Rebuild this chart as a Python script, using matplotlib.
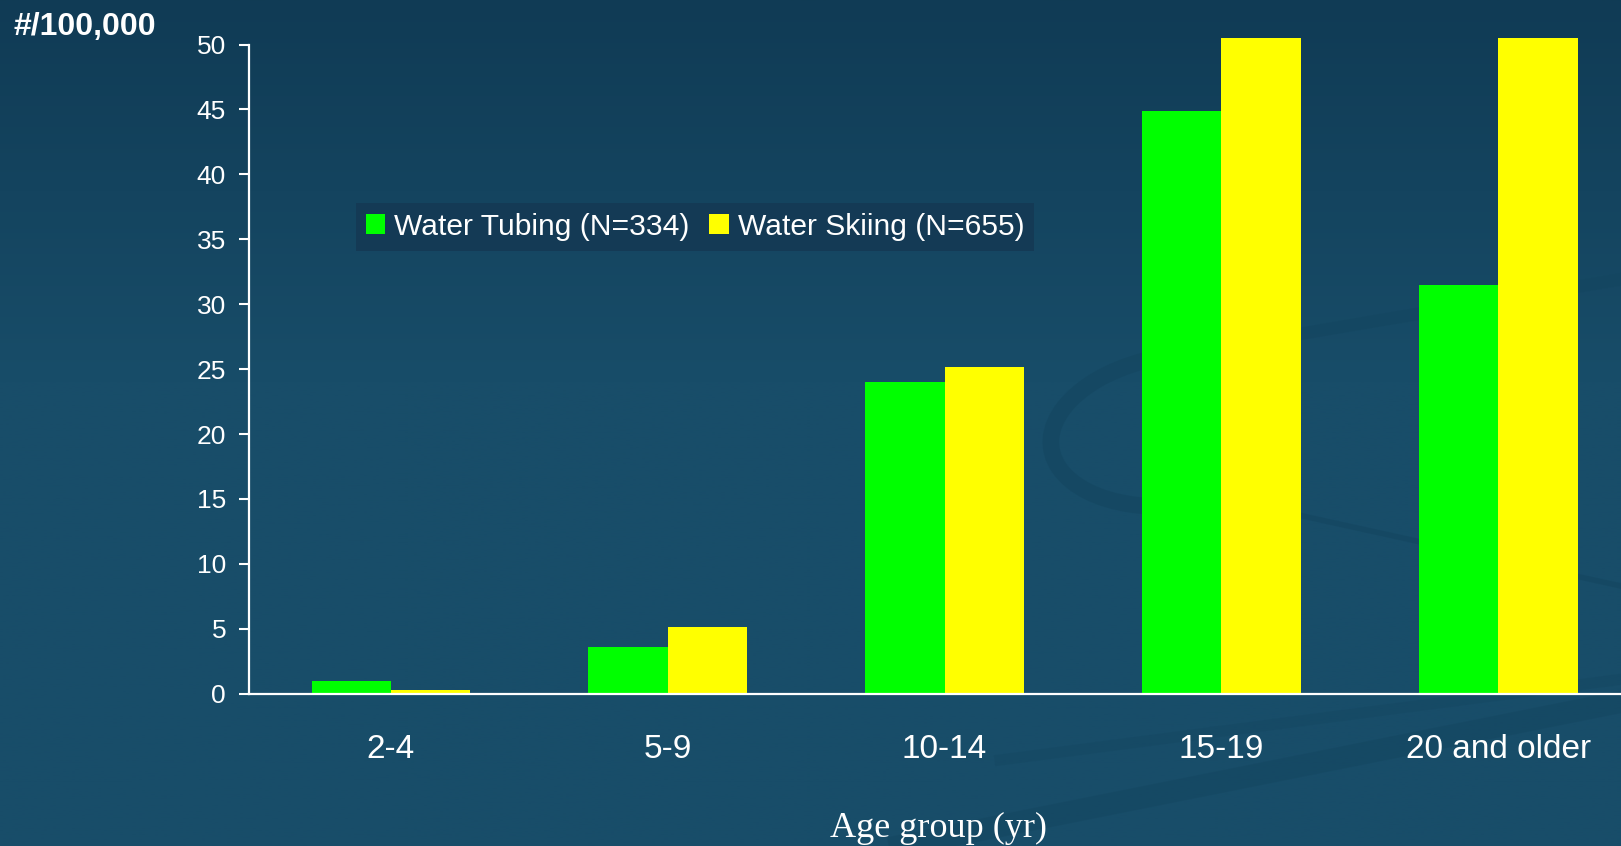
import numpy as np
import matplotlib
matplotlib.use("Agg")
import matplotlib.pyplot as plt
from matplotlib.patches import Patch, Arc

# -----------------------------------
#   DATOS
# -----------------------------------
age_groups = ["2-4", "5-9", "10-14", "15-19", "20 and older"]
tubing = [1.0, 3.6, 24.0, 44.9, 31.5]
skiing = [0.25, 5.1, 25.2, 53.0, 54.0]   # los dos ultimos se salen del eje
series_labels = ["Water Tubing (N=334)", "Water Skiing (N=655)"]
y_ticks = [0, 5, 10, 15, 20, 25, 30, 35, 40, 45, 50]

GREEN = "#00ff00"
YELLOW = "#ffff00"
NARROW = ["Liberation Sans Narrow", "Liberation Sans", "DejaVu Sans"]
SANS = ["Liberation Sans", "DejaVu Sans"]

fig = plt.figure(figsize=(16.21, 8.46), dpi=100)

# -----------------------------------
#   FONDO (degradado + curvas suaves)
# -----------------------------------
bg = fig.add_axes([0, 0, 1, 1], zorder=-10)
top = np.array([16, 59, 85]) / 255
bot = np.array([24, 77, 105]) / 255
t = np.clip(np.linspace(0, 1, 400) / 0.45, 0, 1)[:, None]
grad = top * (1 - t) + bot * t
bg.imshow(grad[:, None, :].repeat(2, axis=1), aspect="auto",
          extent=[0, 1621, 846, 0])
swoosh = "#144660"
bg.add_patch(Arc((1180, 430), 260, 150, angle=-8, theta1=95, theta2=290,
                 color=swoosh, lw=12, alpha=0.6))
xs = np.linspace(1170, 1621, 50)
bg.plot(xs, 356 - 0.17 * (xs - 1170), color=swoosh, lw=9, alpha=0.6)
xs = np.linspace(1230, 1621, 50)
bg.plot(xs, 500 + 0.22 * (xs - 1230), color=swoosh, lw=4, alpha=0.6)
xs = np.linspace(900, 1621, 50)
bg.plot(xs, 846 - 0.2 * (xs - 900), color=swoosh, lw=16, alpha=0.5)
xs = np.linspace(1000, 1621, 50)
bg.plot(xs, 760 - 0.13 * (xs - 1000), color=swoosh, lw=8, alpha=0.35)
bg.set_xlim(0, 1621)
bg.set_ylim(846, 0)
bg.axis("off")

# -----------------------------------
#   GRAFICA DE BARRAS
# -----------------------------------
ax = fig.add_axes([249 / 1621, 1 - 693.7 / 846, 1 - 249 / 1621,
                   (693.7 - 38.3) / 846])
ax.patch.set_alpha(0)

x = np.arange(len(age_groups))
w = 0.287
ax.bar(x - w / 2, tubing, w, color=GREEN, label=series_labels[0])
ax.bar(x + w / 2, skiing, w, color=YELLOW, label=series_labels[1])

ax.set_xlim(-0.513, 4.444)
ax.set_ylim(0, 50.48)
ax.set_yticks(y_ticks)
ax.set_xticks(x)
ax.set_xticklabels(age_groups)

for s in ["top", "right"]:
    ax.spines[s].set_visible(False)
for s in ["left", "bottom"]:
    ax.spines[s].set_color("white")
    ax.spines[s].set_linewidth(1.6)
ax.spines["left"].set_bounds(0, 50)

ax.tick_params(axis="y", colors="white", length=7.5, width=1.5, pad=9,
               labelsize=19)
ax.tick_params(axis="x", colors="white", length=0, pad=29, labelsize=24)
for lab in ax.get_yticklabels() + ax.get_xticklabels():
    lab.set_family(NARROW)

handles = [Patch(facecolor=GREEN), Patch(facecolor=YELLOW)]
leg = ax.legend(handles, series_labels, ncol=2, loc="upper left",
                bbox_to_anchor=(356 / 1621, 1 - 203 / 846),
                bbox_transform=fig.transFigure, borderaxespad=0,
                prop={"family": SANS, "size": 21.6}, handlelength=0.65,
                handleheight=0.65, handletextpad=0.3, columnspacing=0.65,
                borderpad=0.33, fancybox=False, framealpha=1)
leg.get_frame().set_facecolor("#143a55")
leg.get_frame().set_edgecolor("none")
for txt in leg.get_texts():
    txt.set_color("white")

# -----------------------------------
#   TEXTOS
# -----------------------------------
fig.text(13 / 1621, 1 - 35 / 846, "#/100,000", color="white",
         fontsize=23, fontweight="bold", family=SANS, va="baseline")
fig.text(938 / 1621, 1 - 837 / 846, "Age group (yr)", color="white",
         fontsize=26, family=["Liberation Serif", "DejaVu Serif"],
         ha="center", va="baseline")

fig.savefig("out.png", dpi=100)
